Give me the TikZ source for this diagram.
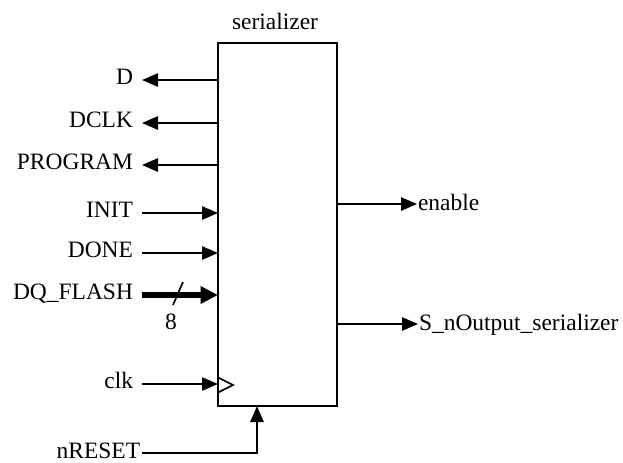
\documentclass[tikz,border=0pt]{standalone}
\usepackage{fontspec}
\setmainfont{Liberation Serif}
\usetikzlibrary{arrows.meta}
\begin{document}
\begin{tikzpicture}[x=0.75pt, y=-0.75pt, line width=1.3pt,
    font=\fontsize{17.6}{21}\selectfont,
    sig/.style={-{Triangle[length=12pt,width=10pt]}},
    bus/.style={line width=4.5pt, -{Triangle[length=13pt,width=12.5pt]}},
    lpin/.style={anchor=base east, inner sep=0pt, outer xsep=6.75pt, yshift=-3.6pt},
    rpin/.style={anchor=base west, inner sep=0pt, outer xsep=0.75pt, yshift=-4.5pt}]

    \useasboundingbox (0,0) rectangle (623,462);

    % the block
    \node[draw, minimum width=89.25pt, minimum height=272.25pt, inner sep=0pt] (ser) at (277.5,224.5) {};
    \node[anchor=base, inner sep=0pt] (title) at (275,29) {serializer};

    % pins on the block
    \coordinate (pD) at (218,80);
    \coordinate (pDCLK) at (218,123);
    \coordinate (pPROG) at (218,165);
    \coordinate (pINIT) at (218,213);
    \coordinate (pDONE) at (218,253);
    \coordinate (pDQ) at (218,295);
    \coordinate (pclk) at (218,384);
    \coordinate (pEn) at (337,204);
    \coordinate (pOut) at (337,324);
    \coordinate (pRst) at (257,406);

    % outputs on the left
    \node[lpin] (D) at (142,80) {D};
    \node[lpin] (DCLK) at (142,123) {DCLK};
    \node[lpin] (PROGRAM) at (142,165) {PROGRAM};
    \draw[sig] (pD) -- (pD -| D.east);
    \draw[sig] (pDCLK) -- (pDCLK -| DCLK.east);
    \draw[sig] (pPROG) -- (pPROG -| PROGRAM.east);

    % inputs
    \node[lpin] (INIT) at (142,213) {INIT};
    \node[lpin] (DONE) at (142,253) {DONE};
    \node[lpin] (DQ) at (142,295) {DQ\_FLASH};
    \draw[sig] (pINIT -| INIT.east) -- (pINIT);
    \draw[sig] (pDONE -| DONE.east) -- (pDONE);
    \draw[bus] (pDQ -| DQ.east) -- (pDQ);
    \draw (173,305) -- (183,282);
    \node[anchor=base, inner sep=0pt] (width) at (171,329) {8};

    % clock and reset
    \node[lpin] (clk) at (142,384) {clk};
    \draw[sig] (pclk -| clk.east) -- (pclk);
    \draw (218,377.5) -- (233,385) -- (218,392.5);
    \node[anchor=base east, inner sep=0pt] (nRESET) at (141,458) {nRESET};
    \draw[sig] (nRESET.base east) ++(0.5,-5) -| (pRst);

    % outputs on the right
    \node[rpin] (enable) at (417,204) {enable};
    \node[rpin] (out) at (418,324) {S\_nOutput\_serializer};
    \draw[sig] (pEn) -- (pEn -| enable.west);
    \draw[sig] (pOut) -- (pOut -| out.west);
\end{tikzpicture}
\end{document}
